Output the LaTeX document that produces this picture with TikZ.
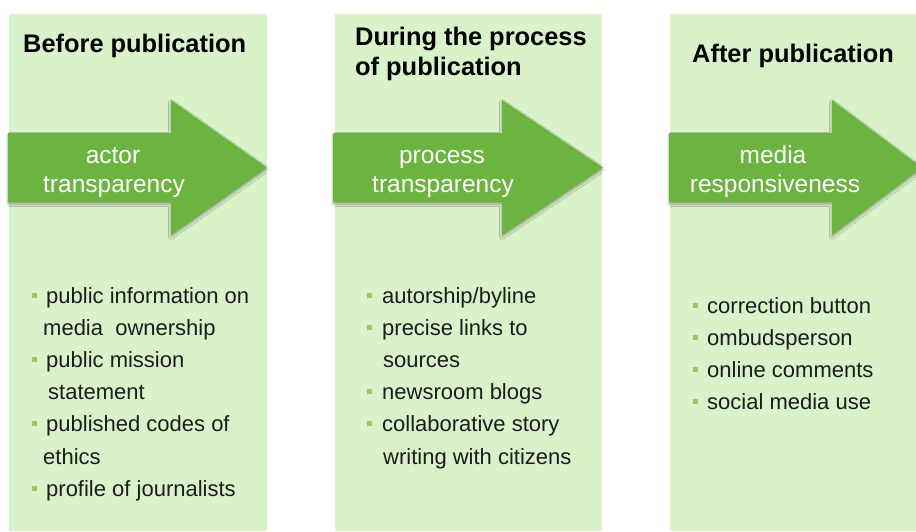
\documentclass[tikz,border=0pt]{standalone}
\usepackage{fontspec}
\setmainfont{Liberation Sans}
\usetikzlibrary{shadows.blur}

\definecolor{panelgreen}{HTML}{D9F2CA}
\definecolor{arrowgreen}{HTML}{6BB43F}
\definecolor{bulletgreen}{HTML}{9CC46A}
\definecolor{inktext}{HTML}{1C1C1C}

\tikzset{
  panel/.style={fill=panelgreen},
  flow/.style={fill=arrowgreen,
    blur shadow={shadow xshift=0pt, shadow yshift=-2pt,
                 shadow blur radius=2.5pt, shadow opacity=35}},
  headtext/.style={anchor=base west, inner sep=0pt,
    font=\fontsize{25.4}{30}\selectfont\bfseries, text=black},
  arrowtext/.style={anchor=base, inner sep=0pt,
    font=\fontsize{24.5}{29}\selectfont, text=white},
  itemtext/.style={anchor=base west, inner sep=0pt,
    font=\fontsize{22}{32}\selectfont, text=inktext},
  bulletsq/.style={fill=bulletgreen}
}

% bullet square left of a list line: #1 = x, #2 = baseline
\newcommand\sqbullet[2]{\fill[bulletsq] (#1,#2-10.5) rectangle ++(5,5);}

\begin{document}
\begin{tikzpicture}[x=1pt,y=-1pt]
\useasboundingbox (0,0) rectangle (916,531);
\clip (0,0) rectangle (916,531);

% background panels
\fill[panel] (9,14) rectangle (267,531);
\fill[panel] (335,14) rectangle (602,531);
\fill[panel] (670,14) rectangle (940,531);

% block arrows
\fill[flow] (8,133) -- (171,133) -- (171,100) -- (267,167.5) -- (171,235) -- (171,202) -- (8,202) -- cycle;
\fill[flow] (333,133) -- (502,133) -- (502,100) -- (603,167.5) -- (502,235) -- (502,202) -- (333,202) -- cycle;
\fill[flow] (669,133) -- (832,133) -- (832,100) -- (922,167.5) -- (832,235) -- (832,202) -- (669,202) -- cycle;

% headings
\node[headtext] (h1) at (23,52) {Before publication};
\node[headtext] (h2a) at (355,45) {During the process};
\node[headtext] (h2b) at (355,75) {of publication};
\node[headtext] (h3) at (692,62) {After publication};

% arrow labels
\node[arrowtext] (a1a) at (113,163) {actor};
\node[arrowtext] (a1b) at (114,192) {transparency};
\node[arrowtext] (a2a) at (442,163) {process};
\node[arrowtext] (a2b) at (443,192.5) {transparency};
\node[arrowtext] (a3a) at (773,163) {media};
\node[arrowtext] (a3b) at (775,192.5) {responsiveness};

% before publication
\sqbullet{31.5}{303}
\node[itemtext] (l1) at (46,303) {public information on};
\node[itemtext] (l2) at (43,335) {media\ \ ownership};
\sqbullet{31.5}{367}
\node[itemtext] (l3) at (46,367) {public mission};
\node[itemtext] (l4) at (48,399.5) {statement};
\sqbullet{31.5}{431.5}
\node[itemtext] (l5) at (46,431.5) {published codes of};
\node[itemtext] (l6) at (43,464) {ethics};
\sqbullet{31.5}{496.5}
\node[itemtext] (l7) at (46,496.5) {profile of journalists};

% during the process
\sqbullet{367}{303}
\node[itemtext] (m1) at (382,303) {autorship/byline};
\sqbullet{367}{335}
\node[itemtext] (m2) at (382,335) {precise links to};
\node[itemtext] (m3) at (383,367) {sources};
\sqbullet{367}{399}
\node[itemtext] (m4) at (382,399) {newsroom blogs};
\sqbullet{367}{431}
\node[itemtext] (m5) at (382,431) {collaborative story};
\node[itemtext] (m6) at (383,464.5) {writing with citizens};

% after publication
\sqbullet{693}{313}
\node[itemtext] (r1) at (707,313) {correction button};
\sqbullet{693}{345}
\node[itemtext] (r2) at (707,345) {ombudsperson};
\sqbullet{693}{377}
\node[itemtext] (r3) at (707,377) {online comments};
\sqbullet{693}{409}
\node[itemtext] (r4) at (707,409) {social media use};
\end{tikzpicture}
\end{document}
